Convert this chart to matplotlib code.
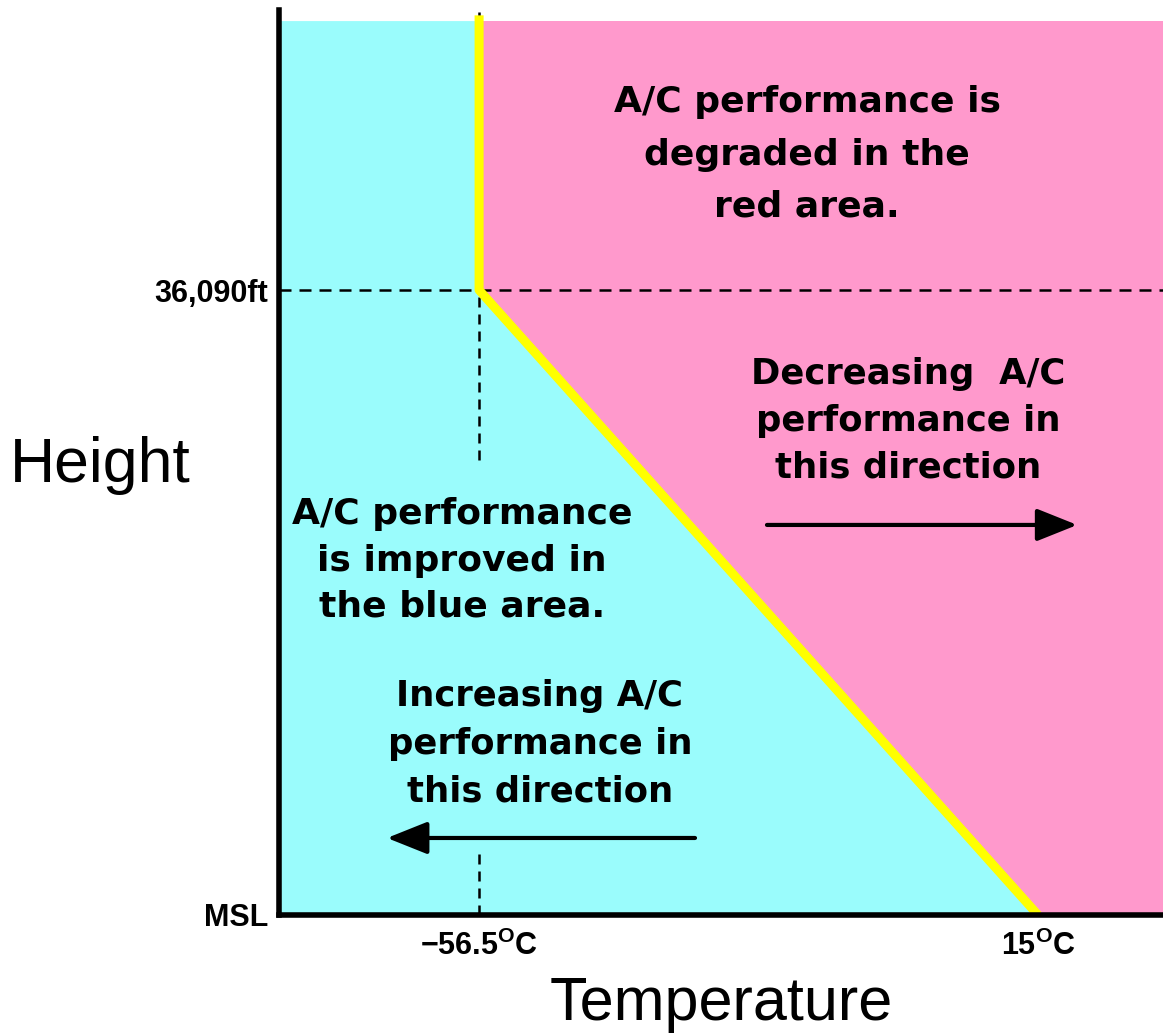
import matplotlib
matplotlib.use("Agg")
import matplotlib.pyplot as plt

# ISA reference points
temps = [-56.5, 15.0]
temp_labels = [r"$\mathbf{-56.5^{O}C}$", r"$\mathbf{15^{O}C}$"]
heights = [0, 36090]
height_labels = ["MSL", "36,090ft"]

# chart extents (deg C / ft)
x_min, x_max = -82.1, 31.0
y_top = 52260
fill_top = 51620

# ISA line: isothermal above the tropopause, lapse rate below
isa_temp = [-56.5, -56.5, 15.0]
isa_height = [51950, 36090, 0]

# visible pieces of the -56.5 guide line (rest is hidden by the notes)
guide_upper = [26300, 52150]
guide_lower = [0, 3500]

note_red = "A/C performance is\ndegraded in the\nred area."
note_dec = "Decreasing  A/C\nperformance in\nthis direction"
note_blue = "A/C performance\nis improved in\nthe blue area."
note_inc = "Increasing A/C\nperformance in\nthis direction"

CYAN = "#9afcfc"
PINK = "#ff99cc"

plt.rcParams["font.family"] = ["Liberation Sans", "DejaVu Sans"]
plt.rcParams["mathtext.fontset"] = "custom"
plt.rcParams["mathtext.bf"] = "Liberation Sans:bold"
plt.rcParams["mathtext.rm"] = "Liberation Sans"

W, H = 1163, 1033
fig = plt.figure(figsize=(W / 100, H / 100), dpi=100)
ax = fig.add_axes([279 / W, (H - 915) / H, (W - 279) / W, (915 - 10) / H])

# the two regions
ax.fill([x_min, temps[1], temps[0], temps[0], x_min],
        [0, 0, heights[1], fill_top, fill_top], color=CYAN, lw=0, zorder=1)
ax.fill([temps[1], x_max, x_max, temps[0], temps[0]],
        [0, 0, fill_top, fill_top, heights[1]], color=PINK, lw=0, zorder=1)

# dashed guides
ax.axhline(heights[1], color="k", lw=1.8, ls=(0, (4.8, 3.2)), zorder=2)
ax.plot([temps[0], temps[0]], guide_upper, color="k", lw=1.8,
        ls=(0, (4.0, 2.8)), zorder=2)
ax.plot([temps[0], temps[0]], guide_lower, color="k", lw=1.8,
        ls=(0, (4.0, 2.8)), zorder=2)

# boundary line
ax.plot(isa_temp, isa_height, color="#ffff00", lw=6.5,
        solid_capstyle="butt", solid_joinstyle="round", zorder=3)

ax.set_xlim(x_min, x_max)
ax.set_ylim(0, y_top)

for side in ["top", "right"]:
    ax.spines[side].set_visible(False)
for side in ["left", "bottom"]:
    ax.spines[side].set_linewidth(4)
    ax.spines[side].set_zorder(4)

ax.set_xticks(temps, temp_labels)
ax.set_yticks(heights, height_labels)
ax.tick_params(length=0, labelsize=22)
ax.tick_params(axis="x", pad=11)
ax.tick_params(axis="y", pad=8)
for lab in ax.get_yticklabels():
    lab.set_fontweight("bold")

ax.set_ylabel("Height", fontsize=45, rotation=0, ha="left", va="baseline")
ax.yaxis.set_label_coords(-0.3043, 0.4785)
ax.set_xlabel("Temperature", fontsize=44, ha="center", va="baseline")
ax.xaxis.set_label_coords(0.5, -0.116)

# notes (anchored on the baseline of their last line)
note_kw = dict(transform=ax.transAxes, ha="center", va="baseline",
               fontweight="bold", family="DejaVu Sans", zorder=5)
ax.text(0.5973, 0.7713, note_red, fontsize=26, linespacing=1.68, **note_kw)
ax.text(0.7115, 0.4829, note_dec, fontsize=25.5, linespacing=1.48, **note_kw)
ax.text(0.2070, 0.3293, note_blue, fontsize=26, linespacing=1.46, **note_kw)
ax.text(0.2952, 0.1249, note_inc, fontsize=25.5, linespacing=1.51, **note_kw)

arrow_kw = dict(arrowstyle="-|>,head_length=1.25,head_width=0.5",
                mutation_scale=20, lw=3, color="k", shrinkA=0, shrinkB=0)
ax.annotate("", xy=(0.903, 0.431), xytext=(0.552, 0.431),
            xycoords="axes fraction", arrowprops=arrow_kw, zorder=5)
ax.annotate("", xy=(0.1222, 0.0851), xytext=(0.4706, 0.0851),
            xycoords="axes fraction", arrowprops=arrow_kw, zorder=5)

fig.savefig("out.png", dpi=100)
